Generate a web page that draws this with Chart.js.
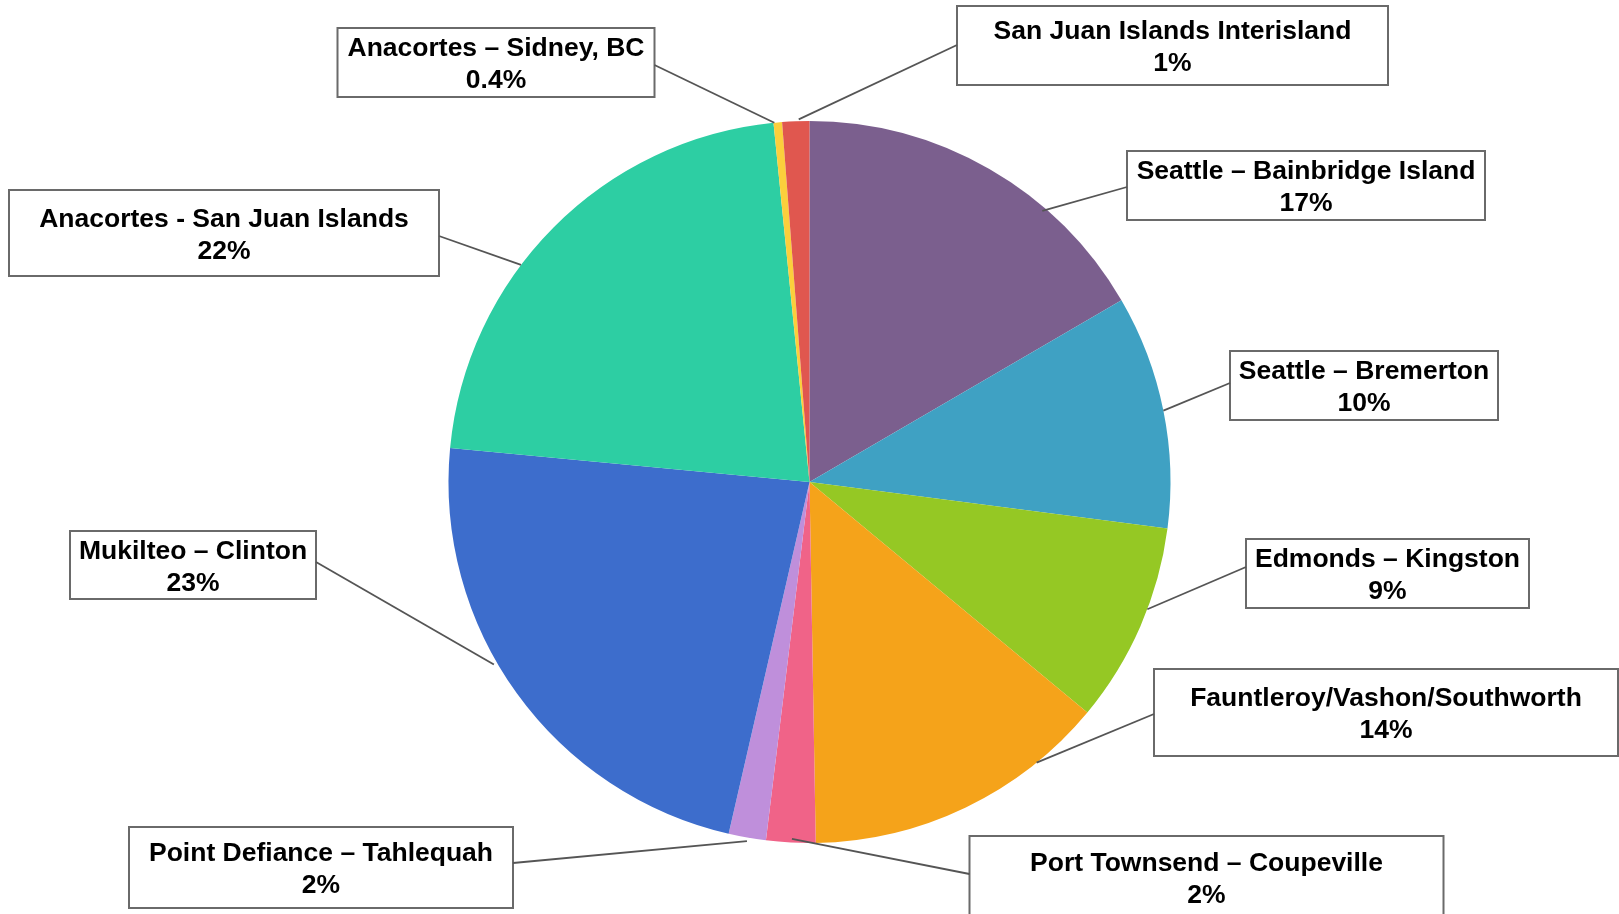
<!DOCTYPE html>
<html><head><meta charset="utf-8">
<script src="https://cdn.jsdelivr.net/npm/chart.js@4/dist/chart.umd.min.js"></script>
<style>html,body{margin:0;padding:0;background:#fff;overflow:hidden}#wrap{width:1619px;height:914px;position:relative}</style>
</head><body><div id="wrap"><canvas id="c"></canvas></div>
<script>
// ---- data ----
const routes = [
  'Seattle – Bainbridge Island',
  'Seattle – Bremerton',
  'Edmonds – Kingston',
  'Fauntleroy/Vashon/Southworth',
  'Port Townsend – Coupeville',
  'Point Defiance – Tahlequah',
  'Mukilteo – Clinton',
  'Anacortes - San Juan Islands',
  'Anacortes – Sidney, BC',
  'San Juan Islands Interisland'
];
const shares = [16.6, 10.45, 8.96, 13.7, 2.2, 1.67, 22.9, 21.9, 0.38, 1.21];
const colors = ['#7b5f8e','#3fa1c3','#95c824','#f5a31a','#f06388','#bf8fdb','#3d6dcc','#2dcea3','#fbcf3c','#e0574f'];

// ---- callout layout (annotation boxes, leader start points, anchor position within slice) ----
const calloutLayout = [
  {box:[1127,151,358,69], from:[1127,187], t:0.68, rf:0.99},
  {box:[1230,351,268,69], from:[1230,383], t:0.50, rf:1.0},
  {box:[1246,539,283,69], from:[1246,567], t:0.41, rf:1.0},
  {box:[1154,669,464,87], from:[1154,714], t:0.23, rf:1.0},
  {box:[969.5,836,474,82], from:[969.5,874], t:0.48, rf:0.99},
  {box:[129,827,384,81], from:[513,863], t:0.49, rf:1.01},
  {box:[70,531,246,68], from:[316,562], t:0.57, rf:1.01},
  {box:[9,190,430,86], from:[439,236], t:0.40, rf:1.0},
  {box:[337.5,28,317,69], from:[654.5,65], t:0.1, rf:1.0},
  {box:[957,6,431,79], from:[957,45], t:0.61, rf:1.005}
];

function pctLabel(v){ return (v < 1 ? v.toFixed(1) : Math.round(v).toString()) + '%'; }

const calloutPlugin = {
  id:'callouts',
  afterDatasetsDraw(chart){
    const ctx = chart.ctx;
    const meta = chart.getDatasetMeta(0);
    meta.data.forEach((arc,i)=>{
      const L = calloutLayout[i];
      const p = arc.getProps(['x','y','startAngle','endAngle','outerRadius'], true);
      const a = p.startAngle + (p.endAngle - p.startAngle) * L.t;
      const r = p.outerRadius * L.rf;
      const ax = p.x + Math.cos(a) * r, ay = p.y + Math.sin(a) * r;
      ctx.save();
      const [bx,by,bw,bh] = L.box;
      ctx.fillStyle = '#fff';
      ctx.fillRect(bx,by,bw,bh);
      ctx.strokeStyle = '#6a6a6a';
      ctx.lineWidth = 2;
      ctx.strokeRect(bx,by,bw,bh);
      ctx.strokeStyle = '#555';
      ctx.lineWidth = 1.8;
      ctx.beginPath(); ctx.moveTo(L.from[0], L.from[1]); ctx.lineTo(ax, ay); ctx.stroke();
      ctx.fillStyle = '#000';
      ctx.font = 'bold 26.5px "Liberation Sans", Arial, sans-serif';
      ctx.textAlign = 'center';
      ctx.textBaseline = 'middle';
      const cx = bx + bw/2, cy = by + bh/2 + 2.5;
      ctx.fillText(routes[i], cx, cy - 16);
      ctx.fillText(pctLabel(shares[i]), cx, cy + 16);
      ctx.restore();
    });
  }
};

new Chart(document.getElementById('c'), {
  type:'pie',
  data:{
    labels: routes,
    datasets:[{ data: shares, backgroundColor: colors, borderWidth: 0 }]
  },
  options:{
    responsive:true,
    maintainAspectRatio:false,
    animation:false,
    layout:{ padding:{ top:121, bottom:71, left:0, right:0 } },
    plugins:{ legend:{ display:false }, tooltip:{ enabled:false } }
  },
  plugins:[calloutPlugin]
});
</script>
</body></html>
